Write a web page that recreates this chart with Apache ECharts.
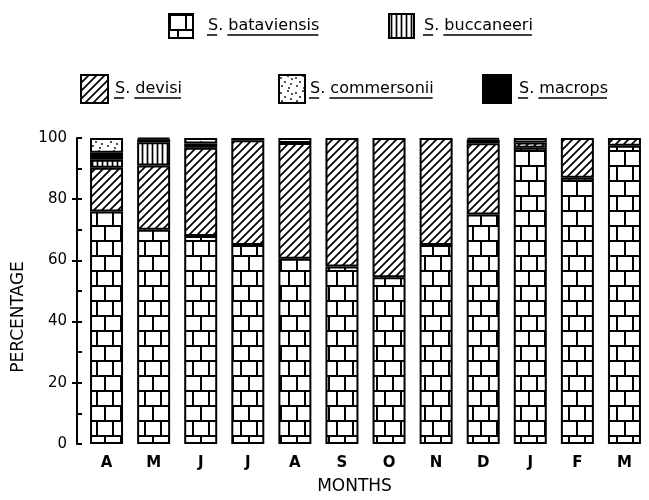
<!DOCTYPE html>
<html>
<head>
<meta charset="utf-8">
<script src="https://cdn.jsdelivr.net/npm/echarts@6/dist/echarts.min.js"></script>
<style>html,body{margin:0;padding:0;background:#fff}#c{width:649px;height:500px}</style>
</head>
<body>
<div id="c"></div>
<script>
const months = ['A','M','J','J','A','S','O','N','D','J','F','M'];
const yTicks = [0, 20, 40, 60, 80, 100];
const bataviensis = [76, 70, 68, 65, 60.5, 58, 54.5, 65, 75, 96.8, 87, 97.5];
const devisi      = [14.3, 21, 28.8, 34.3, 37.9, 42, 45.5, 35, 23.3, 1.7, 13, 2.5];
const buccaneeri  = [2.6, 7.6, 0, 0, 0, 0, 0, 0, 0, 0, 0, 0];
const macrops     = [2.3, 1, 1.4, 0.7, 0, 0, 0, 0, 1.2, 0, 0, 0];
const commersonii = [4.8, 0.4, 1.8, 0, 1.6, 0, 0, 0, 0.5, 1.5, 0, 0];

function tile(w, h, draw) {
  const c = document.createElement('canvas');
  c.width = w; c.height = h;
  const g = c.getContext('2d');
  g.fillStyle = '#fff'; g.fillRect(0, 0, w, h);
  g.strokeStyle = '#000'; g.fillStyle = '#000';
  draw(g);
  return { image: c, repeat: 'repeat' };
}
const brick = tile(32, 30, g => {
  g.lineWidth = 2; g.beginPath();
  g.moveTo(0, 1); g.lineTo(32, 1); g.moveTo(0, 16); g.lineTo(32, 16);
  g.moveTo(1, 0); g.lineTo(1, 16); g.moveTo(17, 0); g.lineTo(17, 16);
  g.moveTo(9, 16); g.lineTo(9, 30); g.moveTo(25, 16); g.lineTo(25, 30);
  g.stroke();
});
const hatch = tile(8, 8, g => {
  g.lineWidth = 1.7; g.beginPath();
  g.moveTo(-1, 9); g.lineTo(9, -1);
  g.moveTo(-5, 5); g.lineTo(5, -5);
  g.moveTo(3, 13); g.lineTo(13, 3);
  g.stroke();
});
const vlines = tile(5, 4, g => {
  g.lineWidth = 1.7; g.beginPath();
  g.moveTo(2.5, 0); g.lineTo(2.5, 4); g.stroke();
});
const dotPts = [[2,3],[9,1],[6,7],[12,9],[3,11],[10,13],[13,4]];
const dots = tile(15, 15, g => {
  dotPts.forEach(p => { g.beginPath(); g.arc(p[0], p[1], 0.9, 0, Math.PI * 2); g.fill(); });
});

const font = 'DejaVu Sans';
const fontSize = 16;
const border = { borderColor: '#000', borderWidth: 2 };
const skipZero = a => a.map(v => (v === 0 ? '-' : v));
function ser(name, data, color) {
  return { name, type: 'bar', stack: 'all', data: skipZero(data), barWidth: 33,
    itemStyle: Object.assign({ color }, border), emphasis: { disabled: true } };
}

// legend boxes: [name, left, top, iconW, iconH, textPad]
const legendBoxes = [
  ['S. bataviensis', 168, 13, 24, 24, 10],
  ['S. buccaneeri', 388, 13, 25, 24, 5],
  ['S. devisi', 80, 74, 27, 28, 2],
  ['S. commersonii', 278, 74, 26, 28, 0],
  ['S. macrops', 482, 74, 28, 28, 3]
];
function leg(b) {
  return { data: [b[0]], left: b[1], top: b[2], itemWidth: b[3], itemHeight: b[4], icon: 'rect',
    selectedMode: false, padding: 0,
    textStyle: { fontFamily: font, fontSize, color: '#000', padding: [0, 0, 0, b[5]] } };
}
// underlines (scientific-name convention) measured from the rendered font
const mctx = document.createElement('canvas').getContext('2d');
mctx.font = fontSize + 'px "' + font + '"';
const underlines = [];
legendBoxes.forEach(b => {
  const x0 = b[1] + b[3] + 5 + b[5];
  const y = b[2] + b[4] / 2 + 10;
  const wS = mctx.measureText('S').width;
  const wPre = mctx.measureText('S. ').width;
  const wAll = mctx.measureText(b[0]).width;
  [[x0, x0 + wS], [x0 + wPre, x0 + wAll]].forEach(seg => {
    underlines.push({ type: 'line', silent: true,
      shape: { x1: seg[0], y1: y, x2: seg[1], y2: y },
      style: { stroke: '#000', lineWidth: 1.5 } });
  });
});

const chart = echarts.init(document.getElementById('c'), null, { renderer: 'canvas' });
chart.setOption({
  animation: false,
  backgroundColor: '#fff',
  legend: legendBoxes.map(leg),
  graphic: underlines,
  grid: { left: 83, right: 1, top: 138, bottom: 52 },
  xAxis: {
    type: 'category', data: months,
    axisLine: { show: false }, axisTick: { show: false },
    axisLabel: { margin: 12, fontFamily: font, fontSize: 15, fontWeight: 'bold', color: '#000' },
    name: 'MONTHS', nameLocation: 'middle', nameGap: 34,
    nameTextStyle: { fontFamily: font, fontSize: 17, color: '#000', padding: [0, 22, 0, 0] }
  },
  yAxis: [
    {
      type: 'value', min: 0, max: 100, interval: 20, offset: 6, position: 'left',
      splitLine: { show: false },
      axisLine: { show: true, lineStyle: { color: '#000', width: 2 } },
      axisTick: { show: true, length: 5, lineStyle: { color: '#000', width: 2 }, customValues: [20, 40, 60, 80] },
      axisLabel: { margin: 10, fontFamily: font, fontSize: 15, color: '#000', customValues: yTicks },
      name: 'PERCENTAGE', nameLocation: 'middle', nameGap: 44, nameRotate: 90,
      nameTextStyle: { fontFamily: font, fontSize: 17, color: '#000', padding: [0, 52, 0, 0] }
    },
    {
      type: 'value', min: 0, max: 100, interval: 10, offset: 6, position: 'left',
      splitLine: { show: false },
      axisLine: { show: false },
      axisTick: { show: true, inside: true, length: 5, lineStyle: { color: '#000', width: 2 } },
      axisLabel: { show: false }
    }
  ],
  series: [
    ser('S. bataviensis', bataviensis, brick),
    ser('S. devisi', devisi, hatch),
    ser('S. buccaneeri', buccaneeri, vlines),
    ser('S. macrops', macrops, '#000'),
    ser('S. commersonii', commersonii, dots)
  ]
});
</script>
</body>
</html>
